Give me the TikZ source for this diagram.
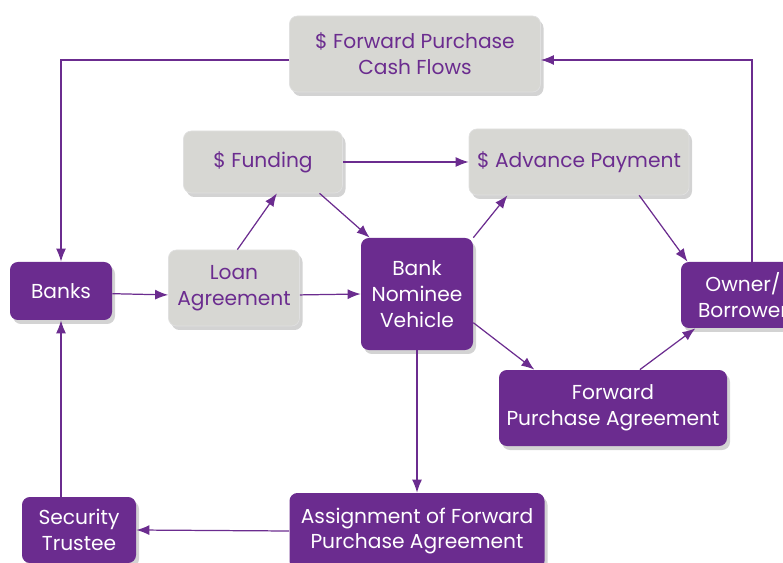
\documentclass[tikz,border=0pt]{standalone}
\usepackage{fontspec}
\setmainfont{Poppins}
\usetikzlibrary{shadows}
\usetikzlibrary{positioning}
\usetikzlibrary{arrows.meta,shapes}
\usetikzlibrary{calc}
\definecolor{plum}{HTML}{6B2C8F}
\definecolor{stone}{HTML}{D7D7D3}
\tikzstyle{box}=[rectangle,rounded corners=4.5pt,align=center,inner sep=2pt,font=\fontsize{11.5}{14.7}\selectfont,drop shadow={opacity=0.35,shadow xshift=0.6mm,shadow yshift=-0.8mm}]
\tikzstyle{greybox}=[box,fill=stone,draw=black!12,text=plum]
\tikzstyle{plumbox}=[box,fill=plum,text=white]
\tikzstyle{flow}=[draw=plum,line width=0.7pt,-{Latex[length=2.6mm,width=2mm]}]

\begin{document}
\begin{tikzpicture}[x=0.02cm,y=-0.02cm]
    \useasboundingbox (0,0) rectangle (783,563);
    % First we draw the grey boxes
    \foreach \pos/\name/\w/\h/\lbl in {{(415,54)/cash/251/76/{\$ Forward Purchase\\Cash Flows}}, {(263,162)/funding/159/62/{\$ Funding}}, {(579,162)/advance/220/66/{\$ Advance Payment}}, {(234,288)/loan/131/76/{Loan\\Agreement}}}
            \node[greybox,minimum width=\w*0.02cm,minimum height=\h*0.02cm] (\name) at \pos {\lbl};

    % then the purple ones
    \foreach \pos/\name/\w/\h/\lbl in {{(61,291)/banks/102/58/{Banks}}, {(417,294)/bnv/112/112/{Bank\\Nominee\\Vehicle}}, {(743,295)/owner/124/66/{Owner/\\Borrower}}, {(613,408)/fpa/228/76/{Forward\\Purchase Agreement}}, {(417,531)/assign/255/76/{Assignment of Forward\\Purchase Agreement}}, {(79,530)/trustee/114/66/{Security\\Trustee}}}
            \node[plumbox,minimum width=\w*0.02cm,minimum height=\h*0.02cm] (\name) at \pos {\lbl};

    % Connect the boxes
  \foreach \source/\dest in {banks.-3/loan.-174, loan.85/funding.-66, loan.-6/bnv.180, funding.0/advance.180, funding.-29/bnv.130, bnv.45/advance.-155, advance.-29/owner.149, bnv.-27/fpa.154, fpa.55/owner.-145, bnv.south/assign.north, assign.180/trustee.0}
        \draw[flow] (\source) -- (\dest);

  \draw[flow] (trustee.north -| banks.south) -- (banks.south);
  \draw[flow] ([yshift=-0.12cm]cash.west) -| (banks.north);
  \draw[flow] ([xshift=0.18cm]owner.north) |- ([yshift=-0.12cm]cash.east);

\end{tikzpicture}
\end{document}
